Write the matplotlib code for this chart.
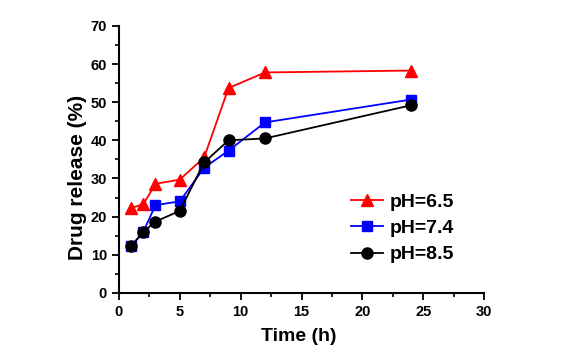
import matplotlib.pyplot as plt
import numpy as np

# release data
time_h = np.array([1, 2, 3, 5, 7, 9, 12, 24])
ph65 = np.array([22.3, 23.2, 28.6, 29.7, 35.5, 53.7, 57.8, 58.3])
ph74 = np.array([12.2, 16.0, 23.0, 24.0, 32.8, 37.3, 44.7, 50.7])
ph85 = np.array([12.2, 16.0, 18.7, 21.5, 34.2, 40.0, 40.5, 49.2])

plt.rcParams['font.family'] = 'Liberation Sans'
plt.rcParams['font.weight'] = 'bold'

fig = plt.figure(figsize=(5.69, 3.55), dpi=100)
ax = fig.add_axes([0.209, 0.175, 0.642, 0.752])

ax.plot(time_h, ph65, '-^', color='red', ms=9, lw=1.3, label='pH=6.5')
ax.plot(time_h, ph74, '-s', color='blue', ms=7, lw=1.3, label='pH=7.4')
ax.plot(time_h, ph85, '-o', color='black', ms=8, lw=1.3, label='pH=8.5')

ax.set_xlim(0, 30)
ax.set_ylim(0, 70)
ax.set_xticks(np.arange(0, 31, 5))
ax.set_xticks(np.arange(0, 31, 2.5), minor=True)
ax.set_yticks(np.arange(0, 71, 10))
ax.set_yticks(np.arange(0, 71, 5), minor=True)
for s in ['top', 'right']:
    ax.spines[s].set_visible(False)
for s in ['left', 'bottom']:
    ax.spines[s].set_linewidth(1.5)
ax.tick_params(which='major', length=5, width=1.3, labelsize=10.5)
ax.tick_params(which='minor', length=3, width=1.2)

ax.set_xlabel('Time (h)', fontsize=14, fontweight='bold')
ax.set_ylabel('Drug release (%)', fontsize=15, fontweight='bold')
ax.xaxis.set_label_coords(0.493, -0.131)
ax.yaxis.set_label_coords(-0.088, 0.434)

ax.legend(loc='upper left', bbox_to_anchor=(351 / 569, 1 - 193 / 355),
          bbox_transform=fig.transFigure, frameon=False, borderpad=0,
          borderaxespad=0, fontsize=14, handlelength=1.65,
          labelspacing=0.45, handletextpad=0.36)

fig.savefig('out.png', dpi=100)
